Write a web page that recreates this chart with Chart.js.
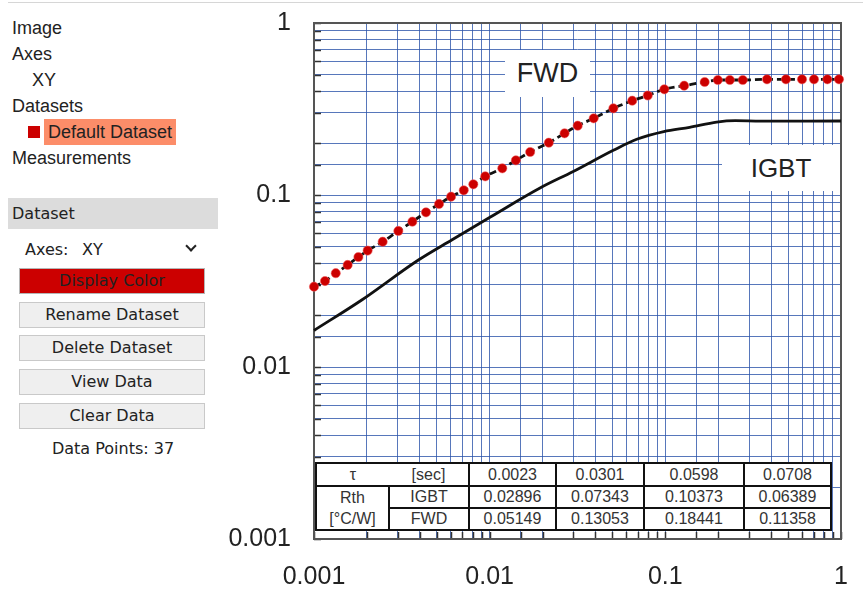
<!DOCTYPE html>
<html>
<head>
<meta charset="utf-8">
<script src="https://cdn.jsdelivr.net/npm/chart.js@4/dist/chart.umd.min.js"></script>
<style>
  html, body { margin: 0; padding: 0; background: #fff; }
  body { width: 863px; height: 594px; position: relative; overflow: hidden; font-family: "Liberation Sans", Arial, sans-serif; color: #222; }
  .topline { position: absolute; left: 8px; top: 2px; width: 855px; height: 1px; background: #d6d6d6; }
  .tree { position: absolute; font-family: "Liberation Sans", Arial, sans-serif; font-size: 18px; line-height: 26px; color: #222; white-space: nowrap; }
  .hl { background: #fc8d69; padding: 0 4px; height: 26px; }
  .sq { position: absolute; left: 28px; top: 126px; width: 12px; height: 12px; background: #cc0000; }
  .ui { position: absolute; font-family: "DejaVu Sans", Verdana, sans-serif; font-size: 16px; color: #222; white-space: nowrap; }
  .hdr { left: 8px; top: 198px; width: 206px; height: 31px; line-height: 31px; background: #dcdcdc; padding-left: 4px; }
  .btn { left: 19px; width: 184px; height: 24px; line-height: 24px; text-align: center; border: 1.5px solid #c9c9c9; background: #efefef; }
  .chev { position: absolute; left: 187px; top: 242px; width: 6px; height: 6px; border-right: 2.5px solid #222; border-bottom: 2.5px solid #222; transform: rotate(45deg); }
  #wrap { position: absolute; left: 220px; top: 0; width: 643px; height: 594px; }
  .lbl { position: absolute; background: #fff; text-align: center; font-family: "Liberation Sans", Arial, sans-serif; color: #222; }
  table.rt { position: absolute; left: 315px; top: 462px; width: 515px; border-collapse: collapse; table-layout: fixed; background: #fff; font-family: "Liberation Sans", Arial, sans-serif; font-size: 16px; color: #333; }
  table.rt td { border: 2px solid #111; text-align: center; padding: 0; height: 20px; line-height: 20px; }
</style>
</head>
<body>
<div class="topline"></div>

<div class="tree" style="left:12px; top:15px;">Image</div>
<div class="tree" style="left:12px; top:41px;">Axes</div>
<div class="tree" style="left:32px; top:67px;">XY</div>
<div class="tree" style="left:12px; top:93px;">Datasets</div>
<div class="sq"></div>
<div class="tree hl" style="left:44px; top:119px;">Default Dataset</div>
<div class="tree" style="left:12px; top:145px;">Measurements</div>

<div class="ui hdr">Dataset</div>
<div class="ui" style="left:25px; top:238px; line-height:24px;">Axes:</div>
<div class="ui" style="left:82px; top:238px; line-height:24px;">XY</div>
<div class="chev"></div>
<div class="ui btn" style="top:268px; background:#cc0000; border-color:#b5b5b5;">Display Color</div>
<div class="ui btn" style="top:302px;">Rename Dataset</div>
<div class="ui btn" style="top:335px;">Delete Dataset</div>
<div class="ui btn" style="top:369px;">View Data</div>
<div class="ui btn" style="top:403px;">Clear Data</div>
<div class="ui" style="left:0; width:226px; top:437px; line-height:24px; text-align:center;">Data Points: 37</div>

<div id="wrap"><canvas id="c" width="643" height="594"></canvas></div>

<div class="lbl" style="left:505px; top:50px; width:85px; height:47px; line-height:47px; font-size:27px;">FWD</div>
<div class="lbl" style="left:722px; top:145px; width:118px; height:46px; line-height:46px; font-size:26px;">IGBT</div>

<table class="rt" id="rt">
  <colgroup>
    <col style="width:73px"><col style="width:80px"><col style="width:87px"><col style="width:88px"><col style="width:100px"><col style="width:87px">
  </colgroup>
</table>

<script>
// ---- data ----
const fwdTime = [0.001, 0.001155, 0.00133, 0.001555, 0.00179, 0.00202, 0.00246, 0.00302, 0.00363, 0.00434,
                 0.00515, 0.00603, 0.00712, 0.00807, 0.00944, 0.0118, 0.0141, 0.0170, 0.0217, 0.0267,
                 0.0317, 0.0391, 0.0506, 0.0648, 0.0794, 0.0987, 0.128, 0.1675, 0.199, 0.233,
                 0.276, 0.379, 0.486, 0.600, 0.702, 0.836, 0.974];
const fwdZth = [0.0293, 0.0316, 0.0351, 0.0392, 0.0436, 0.0475, 0.0535, 0.0618, 0.0700, 0.0793,
                0.0887, 0.0978, 0.1065, 0.1154, 0.1284, 0.1429, 0.1591, 0.1778, 0.2014, 0.2284,
                0.2529, 0.2792, 0.3191, 0.3534, 0.3789, 0.4117, 0.4319, 0.4539, 0.4662, 0.4662,
                0.4662, 0.4706, 0.4706, 0.4706, 0.4706, 0.4706, 0.4706];
const igbtTime = [0.001, 0.00187, 0.00393, 0.00608, 0.01004, 0.01935, 0.0299, 0.0506, 0.0687, 0.098, 0.1375, 0.196, 0.25, 0.35, 1.0];
const igbtZth  = [0.01631, 0.02452, 0.04188, 0.05476, 0.07421, 0.1098, 0.137, 0.182, 0.2108, 0.2337, 0.2475, 0.2655, 0.2705, 0.2690, 0.2693];

const xTickLabels = ['0.001', '0.01', '0.1', '1'];
const yTickLabels = ['0.001', '0.01', '0.1', '1'];

const seriesNames = ['IGBT', 'FWD'];
const tauLabel = ['τ', '[sec]'];
const rthLabel = ['Rth', '[°C/W]'];
const tauValues = ['0.0023', '0.0301', '0.0598', '0.0708'];
const rthIgbt = ['0.02896', '0.07343', '0.10373', '0.06389'];
const rthFwd  = ['0.05149', '0.13053', '0.18441', '0.11358'];

// ---- build table ----
(function buildTable() {
  const t = document.getElementById('rt');
  const r1 = t.insertRow();
  const a = r1.insertCell(); a.textContent = tauLabel[0]; a.style.borderRight = 'hidden';
  const b = r1.insertCell(); b.textContent = tauLabel[1];
  tauValues.forEach(v => { r1.insertCell().textContent = v; });
  const r2 = t.insertRow();
  const c = r2.insertCell(); c.rowSpan = 2; c.innerHTML = rthLabel[0] + '<br>' + rthLabel[1]; c.style.lineHeight = '21px';
  r2.insertCell().textContent = seriesNames[0];
  rthIgbt.forEach(v => { r2.insertCell().textContent = v; });
  const r3 = t.insertRow();
  r3.insertCell().textContent = seriesNames[1];
  rthFwd.forEach(v => { r3.insertCell().textContent = v; });
  t.rows[0].cells[0].style.height = '21px';
})();

function decadeLabel(list) {
  return function (v) {
    for (const s of list) {
      const n = Number(s);
      if (Math.abs(v - n) / n < 1e-6) return s;
    }
    return '';
  };
}

const frameAndTicks = {
  id: 'frameAndTicks',
  beforeDatasetsDraw(chart) {
    const { ctx, chartArea: a, scales: { x, y } } = chart;
    ctx.save();
    ctx.strokeStyle = '#333';
    ctx.lineWidth = 1.5;
    ctx.beginPath();
    y.ticks.forEach(t => {
      const p = Math.round(y.getPixelForValue(t.value)) + 0.5;
      ctx.moveTo(a.left, p); ctx.lineTo(a.left + 7, p);
    });
    x.ticks.forEach(t => {
      const p = Math.round(x.getPixelForValue(t.value)) + 0.5;
      ctx.moveTo(p, a.bottom); ctx.lineTo(p, a.bottom - 7);
    });
    ctx.stroke();
    ctx.strokeStyle = '#555';
    ctx.lineWidth = 2;
    ctx.strokeRect(a.left, a.top, a.right - a.left, a.bottom - a.top);
    ctx.restore();
  }
};

const gridColor = 'rgba(45,85,170,0.8)';
const tickFont = { family: '"Liberation Sans", Arial, sans-serif', size: 25 };

new Chart(document.getElementById('c'), {
  type: 'line',
  data: {
    datasets: [
      {
        label: seriesNames[0],
        data: igbtTime.map((t, i) => ({ x: t, y: igbtZth[i] })),
        borderColor: '#111',
        borderWidth: 2.8,
        pointRadius: 0,
        fill: false,
        cubicInterpolationMode: 'monotone',
        clip: false
      },
      {
        label: seriesNames[1],
        data: fwdTime.map((t, i) => ({ x: t, y: fwdZth[i] })),
        borderColor: '#111',
        borderWidth: 2.8,
        borderDash: [7, 4],
        pointRadius: 4.6,
        pointBackgroundColor: '#cc0000',
        pointBorderColor: 'rgba(240,90,90,0.55)',
        pointBorderWidth: 1,
        fill: false,
        cubicInterpolationMode: 'monotone',
        clip: false
      }
    ]
  },
  options: {
    responsive: false,
    animation: false,
    devicePixelRatio: 1,
    layout: { padding: { left: 0, right: 22, top: 23, bottom: 0 } },
    plugins: { legend: { display: false }, tooltip: { enabled: false } },
    scales: {
      x: {
        type: 'logarithmic',
        min: 0.001, max: 1,
        border: { display: false },
        grid: { color: gridColor, lineWidth: 1, drawTicks: false },
        ticks: { autoSkip: false, maxRotation: 0, padding: 23, color: '#222', font: tickFont, callback: decadeLabel(xTickLabels) },
        afterFit(scale) { scale.height = 55; scale.paddingLeft = 0; scale.paddingRight = 0; }
      },
      y: {
        type: 'logarithmic',
        min: 0.001, max: 1,
        border: { display: false },
        grid: { color: gridColor, lineWidth: 1, drawTicks: false },
        ticks: { autoSkip: false, padding: 23, color: '#222', font: tickFont, callback: decadeLabel(yTickLabels) },
        afterFit(scale) { scale.width = 94; scale.paddingTop = 0; scale.paddingBottom = 0; }
      }
    }
  },
  plugins: [frameAndTicks]
});
</script>
</body>
</html>
